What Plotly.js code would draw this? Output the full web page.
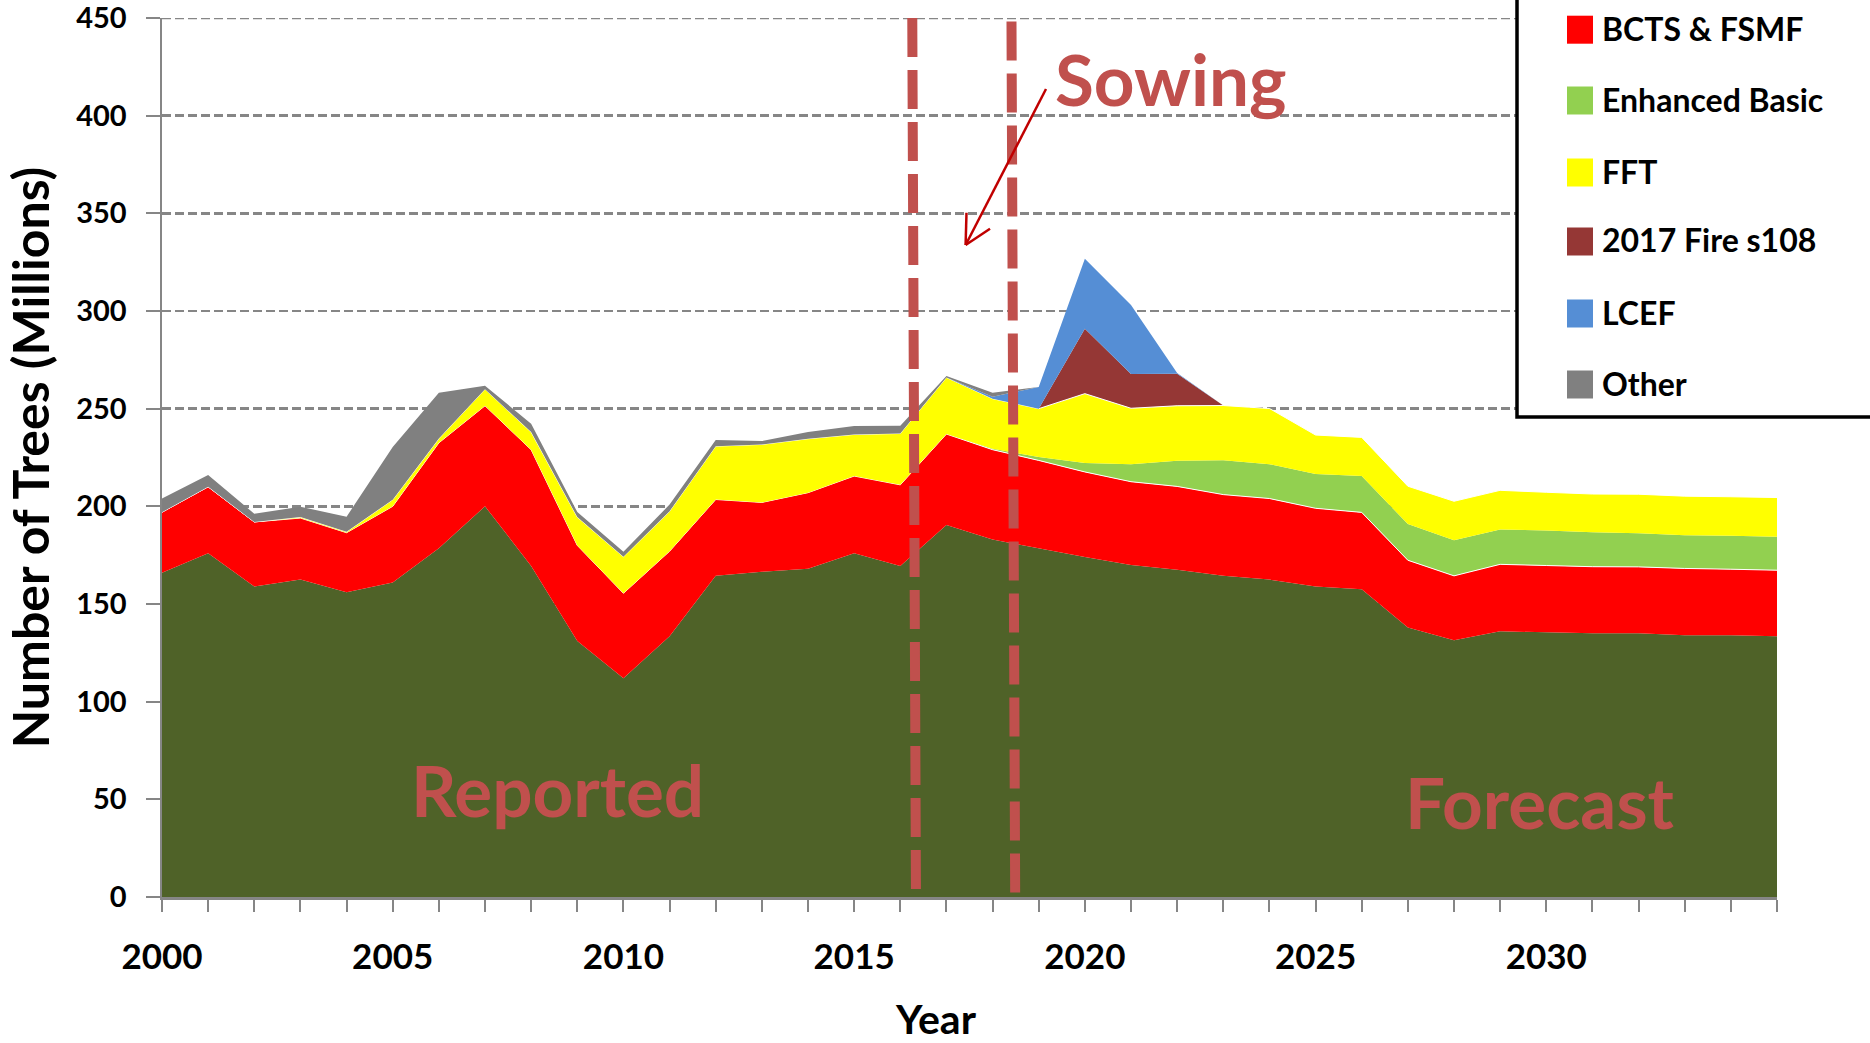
<!DOCTYPE html>
<html>
<head>
<meta charset="utf-8">
<script src="https://cdn.plot.ly/plotly-3.0.1.min.js"></script>
<style>
  html, body { margin: 0; padding: 0; background: #ffffff; }
  #chart { width: 1870px; height: 1043px; }
</style>
</head>
<body>
<div id="chart"></div>
<script>
// ---------------- DATA ----------------
const years = [2000, 2001, 2002, 2003, 2004, 2005, 2006, 2007, 2008, 2009,
               2010, 2011, 2012, 2013, 2014, 2015, 2016, 2017, 2018, 2019,
               2020, 2021, 2022, 2023, 2024, 2025, 2026, 2027, 2028, 2029,
               2030, 2031, 2032, 2033, 2034, 2035];

// base series (its legend entry is cut off at the top of the picture)
const licensees = [166, 176, 159, 162.5, 156, 161, 178.5, 200, 169.5, 131,
                   112, 133.5, 164.5, 166.5, 168, 176, 169.5, 190.5, 183, 178.5,
                   174, 170, 167.5, 164.5, 162.5, 159, 157.5, 138, 131.5, 136,
                   135.5, 135, 135, 134, 134, 133.5];
const bctsFsmf = [31, 34, 33, 31.5, 30.5, 39, 54, 51.5, 59.5, 49,
                  43.5, 43.5, 39, 35.5, 39, 39.5, 41.5, 46.5, 46, 45,
                  43.6, 42.6, 42.7, 41.5, 41.5, 40, 39.4, 34.4, 32.9, 34.3,
                  34.2, 34.1, 34, 34.2, 33.8, 33.8];
const enhancedBasic = [0, 0, 0, 0, 0, 0, 0, 0, 0, 0,
                       0, 0, 0, 0, 0, 0, 0, 0, 0.5, 1.7,
                       4.6, 8.9, 13.1, 17.6, 17.6, 17.6, 18.6, 18.5, 18.3, 17.9,
                       17.9, 17.6, 17.2, 17, 17.2, 17.1];
const fft = [0, 0, 0, 0.5, 0.5, 3.4, 2.2, 8.5, 9, 14.5,
             18.7, 20.5, 27.3, 29.7, 27.6, 21.3, 26.3, 29, 25.6, 24.8,
             35.5, 28.7, 28.2, 28, 28.5, 19.9, 19.8, 19.4, 19.9, 20,
             19.6, 19.6, 20, 20, 19.9, 20.1];
const fire2017 = [0, 0, 0, 0, 0, 0, 0, 0, 0, 0,
                  0, 0, 0, 0, 0, 0, 0, 0, 0, 0,
                  33.2, 17.6, 16.4, 0, 0, 0, 0, 0, 0, 0,
                  0, 0, 0, 0, 0, 0];
const lcef = [0, 0, 0, 0, 0, 0, 0, 0, 0, 0,
              0, 0, 0, 0, 0, 0, 0, 0, 1, 11.1,
              35.9, 35.3, 0.3, 0, 0, 0, 0, 0, 0, 0,
              0, 0, 0, 0, 0, 0];
const other = [7, 6.1, 4.2, 5.3, 7.7, 27, 23.4, 1.7, 4.3, 2.6,
               2.6, 3.4, 3.1, 1.7, 3.4, 4.3, 4, 0.7, 2, 0,
               0, 0, 0, 0, 0, 0, 0, 0, 0, 0,
               0, 0, 0, 0, 0, 0];

const seriesNames = ['Licensees', 'BCTS & FSMF', 'Enhanced Basic', 'FFT', '2017 Fire s108', 'LCEF', 'Other'];
const xTickVals = [2000, 2005, 2010, 2015, 2020, 2025, 2030];
const xTickText = ['2000', '2005', '2010', '2015', '2020', '2025', '2030'];
const yMax = 450;
const markerYears = [2016.3, 2018.45];   // the two dashed "Sowing" marker lines
const noteTexts = ['Sowing', 'Reported', 'Forecast'];
const xTitle = 'Year';
const yTitle = 'Number of Trees (Millions)';

// ---------------- STYLE ----------------
const colors = ['#4F6228', '#FF0000', '#92D050', '#FFFF00', '#953735', '#558ED5', '#808080'];
const edgeColors = ['rgba(0,0,0,0)', '#FFFFFF', 'rgba(0,0,0,0)', '#FFFFFF', 'rgba(0,0,0,0)', 'rgba(0,0,0,0)', 'rgba(0,0,0,0)'];
const edgeWidths = [0, 1, 0, 1, 0, 0, 0];
const seriesValues = [licensees, bctsFsmf, enhancedBasic, fft, fire2017, lcef, other];

const traces = seriesValues.map((vals, i) => ({
  type: 'scatter',
  mode: 'lines',
  x: years,
  y: vals,
  name: seriesNames[i],
  stackgroup: 'one',
  fillcolor: colors[i],
  line: { color: edgeColors[i], width: edgeWidths[i], shape: 'linear' },
  showlegend: false,
  hoverinfo: 'x+y+name'
}));

// plot-area geometry (pixels in the 1870x1043 canvas)
const W = 1870, H = 1043;
const M = { l: 162, r: 93, t: 18, b: 146 };
const PW = W - M.l - M.r, PH = H - M.t - M.b;
const px2x = px => (px - M.l) / PW;
const px2y = py => (H - M.b - py) / PH;

const bold = 700;
const sans = 'Lato, sans-serif';
const noteColor = '#C0504D';
const gridColor = '#868686';

const shapes = [];
const annotations = [];

// top gridline (at the very edge of the range)
shapes.push({ type: 'line', xref: 'paper', yref: 'y',
  x0: 0, x1: 1, y0: yMax, y1: yMax,
  line: { color: gridColor, width: 2.5, dash: '9px,4px' }, layer: 'below' });

// dashed marker lines (drawn top to bottom so the dash pattern starts at the top)
markerYears.forEach((yr, i) => {
  shapes.push({
    type: 'line', xref: 'x', yref: 'y',
    x0: yr - 0.04, y0: i === 0 ? 450 : 448.2,
    x1: yr + 0.04, y1: 0,
    line: { color: noteColor, width: 10, dash: '39px,13px' },
    layer: 'above'
  });
});

// arrow (open V head)
const arrowColor = '#C00000';
shapes.push({ type: 'line', xref: 'paper', yref: 'paper',
  x0: px2x(1046), y0: px2y(89), x1: px2x(965.6), y1: px2y(245),
  line: { color: arrowColor, width: 2.5 }, layer: 'above' });
shapes.push({ type: 'line', xref: 'paper', yref: 'paper',
  x0: px2x(965.6), y0: px2y(245), x1: px2x(966.5), y1: px2y(212.7),
  line: { color: arrowColor, width: 2.5 }, layer: 'above' });
shapes.push({ type: 'line', xref: 'paper', yref: 'paper',
  x0: px2x(965.6), y0: px2y(245), x1: px2x(990), y1: px2y(228.7),
  line: { color: arrowColor, width: 2.5 }, layer: 'above' });

// legend box (top and right edges run off the canvas)
shapes.push({ type: 'rect', xref: 'paper', yref: 'paper',
  x0: px2x(1517), x1: px2x(1890), y0: px2y(417), y1: px2y(-30),
  line: { color: '#000000', width: 3.5 }, fillcolor: '#FFFFFF', layer: 'above' });

const legendRows = [29.7, 100.5, 172.5, 241.5, 313.5, 384.5];
for (let k = 1; k < seriesNames.length; k++) {
  const cy = legendRows[k - 1];
  shapes.push({ type: 'rect', xref: 'paper', yref: 'paper',
    x0: px2x(1567), x1: px2x(1593), y0: px2y(cy + 14), y1: px2y(cy - 14),
    line: { width: 0 }, fillcolor: colors[k], layer: 'above' });
  annotations.push({ xref: 'paper', yref: 'paper',
    x: px2x(1600), y: px2y(cy - 1.5), xanchor: 'left', yanchor: 'middle',
    text: seriesNames[k], showarrow: false,
    font: { family: sans, size: 32, color: '#000000', weight: bold } });
}

// big notes
const notePos = [[1053, 78], [409, 789], [1403, 801]];
noteTexts.forEach((t, i) => {
  annotations.push({ xref: 'paper', yref: 'paper',
    x: px2x(notePos[i][0]), y: px2y(notePos[i][1]),
    xanchor: 'left', yanchor: 'middle', text: t, showarrow: false,
    font: { family: sans, size: 71, color: noteColor, weight: bold } });
});

// x-axis title (sits left of the plot centre in the original)
annotations.push({ xref: 'paper', yref: 'paper',
  x: px2x(936), y: px2y(1018), xanchor: 'center', yanchor: 'middle',
  text: xTitle, showarrow: false,
  font: { family: sans, size: 41, color: '#000000', weight: bold } });

const layout = {
  width: W, height: H,
  margin: M,
  paper_bgcolor: '#FFFFFF', plot_bgcolor: '#FFFFFF',
  showlegend: false,
  xaxis: {
    range: [2000, 2035], autorange: false,
    tickmode: 'array', tickvals: xTickVals, ticktext: xTickText,
    ticks: 'outside', ticklen: 12, tickwidth: 2, tickcolor: gridColor,
    minor: { tickmode: 'array', tickvals: years, ticks: 'outside', ticklen: 12, tickwidth: 2, tickcolor: gridColor, showgrid: false },
    showline: true, linecolor: gridColor, linewidth: 3,
    showgrid: false, zeroline: false,
    tickfont: { family: sans, size: 35, color: '#000000', weight: bold },
    ticklabelstandoff: 15,
    automargin: false
  },
  yaxis: {
    range: [0, yMax], autorange: false,
    tick0: 0, dtick: 50,
    ticks: 'outside', ticklen: 14, tickwidth: 2, tickcolor: gridColor,
    showline: true, linecolor: gridColor, linewidth: 2.5,
    showgrid: true, gridcolor: gridColor, gridwidth: 2.5, griddash: '9px,4px',
    zeroline: false,
    tickfont: { family: sans, size: 29, color: '#000000', weight: bold },
    ticklabelstandoff: 13,
    ticklabeloverflow: 'allow',
    automargin: false,
    title: { text: yTitle, font: { family: sans, size: 50, color: '#000000', weight: bold }, standoff: 14 }
  },
  shapes: shapes,
  annotations: annotations
};

Plotly.newPlot('chart', traces, layout, { displayModeBar: false, staticPlot: true });
</script>
</body>
</html>
